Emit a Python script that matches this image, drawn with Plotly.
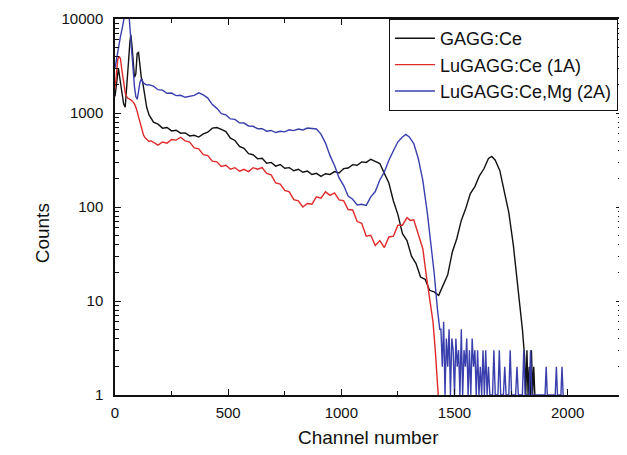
import plotly.graph_objects as go

# ---- data ----
gagg_ch = [0, 8, 15, 22, 30, 38, 45, 52, 60, 66, 70, 75, 80, 86, 92, 98, 104, 110, 116, 122, 130, 140, 150, 160,
           170, 190, 210, 230, 250, 270, 290, 310, 330, 350, 370, 390, 410, 430, 450, 470, 490, 510, 530, 550,
           570, 590, 610, 630, 650, 670, 690, 710, 730, 750, 770, 790, 810, 830, 850, 870, 890, 910, 930, 950,
           970, 990, 1010, 1030, 1050, 1070, 1090, 1110, 1130, 1150, 1170, 1190, 1210, 1230, 1250, 1270, 1290,
           1310, 1330, 1350, 1370, 1390, 1410, 1430, 1450, 1470, 1490, 1510, 1530, 1550, 1570, 1590, 1610, 1630,
           1650, 1665, 1680, 1700, 1720, 1740, 1760, 1775, 1790, 1800, 1810, 1815, 1820, 1825, 1830, 1835, 1840,
           1845, 1850, 1855]
gagg_counts = [1500, 2400, 3000, 2300, 1700, 1250, 1150, 1800, 3600, 5800, 6800, 5200, 3800, 2400, 2600, 4300,
               4400, 3300, 2400, 2150, 1550, 1150, 960, 860,
               800, 760, 690, 700, 645, 655, 610, 615, 570, 580, 555, 600, 625, 690, 700, 670, 635, 540, 510, 440,
               420, 370, 360, 325, 330, 292, 298, 272, 283, 258, 262, 243, 252, 234, 241, 222, 228, 212, 226, 222,
               238, 230, 256, 260, 282, 278, 302, 298, 322, 305, 290, 228, 180, 116, 83, 52, 44,
               30, 25, 18, 17, 13, 12.5, 11.5, 14.5, 19, 33, 46, 72, 97, 139, 165, 215, 255,
               328, 345, 315, 245, 146, 87, 39, 19, 8, 5, 2.5, 1, 3, 1, 2, 1, 3,
               1, 2, 1]

lu1a_ch = [0, 6, 12, 18, 24, 30, 38, 46, 54, 62, 70, 78, 86, 94, 102, 110, 118, 126, 134, 142, 150, 160,
           170, 190, 210, 230, 250, 270, 290, 310, 330, 350, 370, 390, 410, 430, 450, 470, 490, 510, 530, 550,
           570, 590, 610, 630, 650, 670, 690, 710, 730, 750, 770, 790, 810, 830, 850, 870, 890, 910, 930, 950,
           970, 990, 1010, 1030, 1050, 1070, 1090, 1110, 1130, 1150, 1170, 1190, 1210, 1230, 1250, 1270, 1290,
           1305, 1320, 1340, 1360, 1375, 1390, 1405, 1415, 1422, 1428]
lu1a_counts = [1800, 2800, 3700, 4000, 3800, 2900, 2000, 1600, 1450, 1420, 1380, 1330, 1250, 1120, 950, 780,
               660, 580, 540, 520, 500, 505,
               490, 455, 492, 478, 522, 515, 552, 505, 490, 425, 415, 360, 352, 308, 302, 270, 278, 252, 262, 240,
               252, 238, 262, 252, 262, 228, 220, 180, 175, 150, 145, 120, 116, 100, 109, 107, 128, 124, 145, 133,
               141, 119, 117, 94, 93, 70, 67, 49, 50, 39, 44, 37, 48, 49, 64, 64, 77,
               72, 73, 52, 36, 19, 11, 6, 3, 1.5, 1]

lu2a_ch = [0, 8, 16, 24, 32, 40, 48, 56, 62, 68, 74, 80, 86, 92, 98, 104, 110, 116, 122, 130, 140, 150, 160,
           170, 190, 210, 230, 250, 270, 290, 310, 330, 350, 370, 390, 410, 430, 450, 470, 490, 510, 530, 550,
           570, 590, 610, 630, 650, 670, 690, 710, 730, 750, 770, 790, 810, 830, 850, 870, 890, 910, 930, 950,
           970, 990, 1010, 1030, 1050, 1070, 1090, 1110, 1130, 1150, 1170, 1190, 1210, 1230, 1250, 1270, 1285,
           1300, 1320, 1340, 1360, 1380, 1395, 1410, 1425, 1435,
           1440, 1446, 1452, 1458, 1464, 1470, 1476, 1482, 1488, 1494, 1500, 1506, 1512, 1518, 1524, 1530, 1536,
           1542, 1548, 1554, 1560, 1566, 1572, 1578, 1584, 1590, 1596, 1602, 1608, 1614, 1620, 1626, 1632, 1638,
           1644, 1650, 1656, 1668, 1674, 1680, 1692, 1698, 1704, 1716, 1722, 1728, 1740, 1746, 1752, 1770, 1776,
           1782, 1800, 1806, 1812, 1830, 1836, 1842, 1900, 1905, 1910, 1945, 1950, 1955, 1970, 1975, 1980]
lu2a_counts = [3000, 4000, 5200, 6500, 8000, 10500, 13000, 14000, 11000, 7000, 4500, 2800, 1900, 1500, 1400,
               1700, 2100, 2300, 2150, 2050, 1980, 2000, 1960,
               1930, 1770, 1750, 1620, 1630, 1530, 1545, 1470, 1500, 1540, 1640, 1560, 1440, 1230, 1120, 985, 955,
               865, 855, 785, 782, 728, 722, 680, 682, 640, 652, 620, 640, 630, 662, 650, 676, 660, 692, 682, 676,
               596, 478, 352, 276, 204, 170, 131, 121, 105, 107, 104, 128, 146, 194, 236, 314, 396, 494, 556, 592,
               556, 472, 328, 192, 86, 44, 20, 8, 5,
               5, 2, 6, 1, 4, 2, 5, 1, 4, 3, 1, 4, 2, 3, 1, 5, 1,
               3, 2, 4, 1, 3, 1, 4, 2, 3, 1, 3, 1, 2, 1, 3, 1, 3,
               1, 2, 1, 1, 3, 1, 1, 3, 1, 1, 2, 1, 1, 3, 1, 1, 2,
               1, 1, 3, 1, 1, 3, 1, 1, 2, 1, 1, 2, 1, 1, 2, 1]

names = ["GAGG:Ce", "LuGAGG:Ce (1A)", "LuGAGG:Ce,Mg (2A)"]
colors = ["#111111", "#e02a2a", "#3a3fae"]
x_ticks = [0, 500, 1000, 1500, 2000]
y_ticks = [1, 10, 100, 1000, 10000]
y_ticktext = ["1", "10", "100", "1000", "10000"]

FONT = "Liberation Sans, Arial, sans-serif"

fig = go.Figure()
for ch, cnt, nm, col in [(gagg_ch, gagg_counts, names[0], colors[0]),
                         (lu1a_ch, lu1a_counts, names[1], colors[1]),
                         (lu2a_ch, lu2a_counts, names[2], colors[2])]:
    fig.add_trace(go.Scatter(x=ch, y=cnt, mode="lines", name=nm,
                             line=dict(color=col, width=1.4)))

minor_y = [m * 10 ** d for d in range(0, 4) for m in range(2, 10)]

# the page body adds an 8 px offset, so margins are shifted to compensate
fig.update_layout(
    width=627, height=455,
    margin=dict(l=107, r=13, t=11, b=68, autoexpand=False),
    paper_bgcolor="white", plot_bgcolor="white",
    font=dict(family=FONT, color="#111", size=15),
    showlegend=True,
    legend=dict(x=0.992, xanchor="right", y=1, yanchor="top",
                bordercolor="#111", borderwidth=1, bgcolor="white",
                font=dict(size=18, family=FONT), tracegroupgap=0,
                itemwidth=40),
    annotations=[
        dict(text="Channel number", xref="paper", yref="paper", x=0.5, y=-0.114,
             xanchor="center", yanchor="middle", showarrow=False, font=dict(size=19)),
        dict(text="Counts", xref="paper", yref="paper", x=-0.144, y=0.43, textangle=-90,
             xanchor="center", yanchor="middle", showarrow=False, font=dict(size=19)),
    ],
)
fig.update_xaxes(
    range=[0, 2240], showgrid=False, zeroline=False, automargin=False,
    showline=True, linecolor="#111", linewidth=1.5, mirror="allticks",
    ticks="inside", ticklen=6, tickwidth=1.2, tickcolor="#111",
    tickvals=x_ticks, ticklabelstandoff=3,
    minor=dict(tickvals=[250, 750, 1250, 1750], ticks="inside", ticklen=4, tickcolor="#111"),
    tickfont=dict(size=15),
)
fig.update_yaxes(
    type="log", range=[0, 4], showgrid=False, zeroline=False, automargin=False,
    showline=True, linecolor="#111", linewidth=1.5, mirror="allticks",
    ticks="inside", ticklen=6, tickwidth=1.2, tickcolor="#111",
    tickvals=y_ticks, ticktext=y_ticktext, ticklabelstandoff=7,
    minor=dict(tickvals=minor_y, ticks="inside", ticklen=4, tickcolor="#111"),
    tickfont=dict(size=15),
)

fig.write_html("out.html")
